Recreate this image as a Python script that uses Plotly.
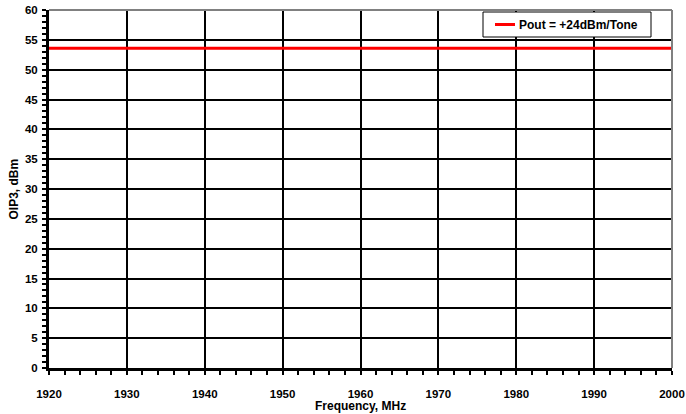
import plotly.graph_objects as go

freq = [1920, 1930, 1940, 1950, 1960, 1970, 1980, 1990, 2000]
oip3 = [53.6, 53.6, 53.6, 53.6, 53.6, 53.6, 53.6, 53.6, 53.6]
series_name = "Pout = +24dBm/Tone"
x_title = "Frequency, MHz"
y_title = "OIP3, dBm"

W, H = 686, 414
ML, MR, MT, MB = 49, 14, 10, 46
PW, PH = W - ML - MR, H - MT - MB

def px(x):
    return (x - ML) / PW

def py(y):
    return (H - MB - y) / PH

FAM = "Liberation Sans, Arial, sans-serif"
tickfont = dict(family=FAM, size=11.5, color="black", weight="bold")
textfont = dict(family=FAM, size=12, color="black", weight="bold")

fig = go.Figure()
fig.add_trace(go.Scatter(x=freq, y=oip3, mode="lines", name=series_name,
                         line=dict(color="#ff0000", width=3), showlegend=False))

axis_common = dict(
    showgrid=True, gridcolor="black", gridwidth=2,
    showline=True, linecolor="black", linewidth=3,
    ticks="outside", ticklen=4, tickwidth=2, tickcolor="black",
    zeroline=False, tickfont=tickfont, automargin=False,
)
fig.update_layout(
    width=W, height=H,
    margin=dict(l=ML, r=MR, t=MT, b=MB),
    paper_bgcolor="white", plot_bgcolor="white",
    font=textfont,
    showlegend=False,
    xaxis=dict(range=[1920, 2000], dtick=10, tick0=1920, ticklabelstandoff=9,
               minor=dict(dtick=2, ticks="outside", ticklen=4, tickwidth=2, tickcolor="black", showgrid=False),
               **axis_common),
    yaxis=dict(range=[0, 60], dtick=5, tick0=0, ticklabelstandoff=2,
               minor=dict(dtick=1, ticks="outside", ticklen=4, tickwidth=2, tickcolor="black", showgrid=False),
               **axis_common),
)
# axis titles
fig.add_annotation(text=x_title, xref="paper", yref="paper", x=0.5, y=py(406),
                   xanchor="center", yanchor="middle", showarrow=False, font=textfont)
fig.add_annotation(text=y_title, xref="paper", yref="paper", x=px(13.5), y=0.5,
                   xanchor="center", yanchor="middle", showarrow=False, textangle=-90, font=textfont)

# grey top and right borders
fig.add_shape(type="line", xref="paper", yref="paper", x0=0, x1=1, y0=1, y1=1,
              line=dict(color="#808080", width=2), layer="above")
fig.add_shape(type="line", xref="paper", yref="paper", x0=1, x1=1, y0=0, y1=1,
              line=dict(color="#808080", width=2), layer="above")

# legend box
fig.add_shape(type="rect", xref="paper", yref="paper", x0=px(483), x1=px(651), y0=py(37), y1=py(12),
              line=dict(color="black", width=1), fillcolor="white", layer="above")
fig.add_shape(type="line", xref="paper", yref="paper", x0=px(495), x1=px(515), y0=py(24.5), y1=py(24.5),
              line=dict(color="#ff0000", width=3), layer="above")
fig.add_annotation(text=series_name, xref="paper", yref="paper", x=px(517), y=py(24.5),
                   xanchor="left", yanchor="middle", showarrow=False, font=textfont)

fig.write_html("out.html")
